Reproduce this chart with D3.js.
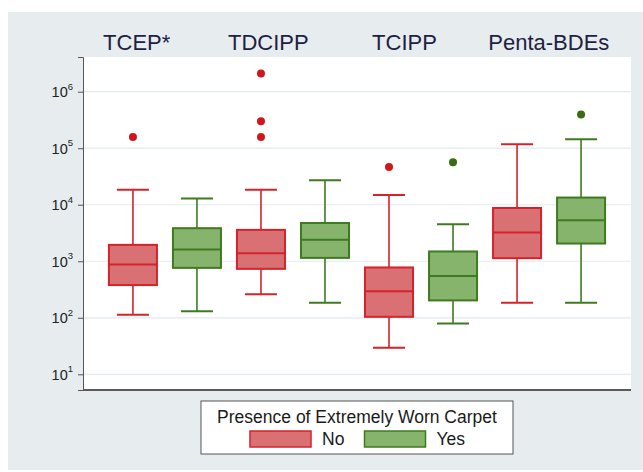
<!DOCTYPE html>
<html>
<head>
<meta charset="utf-8">
<script src="https://cdn.jsdelivr.net/npm/d3@7"></script>
<style>
  html, body { margin: 0; padding: 0; background: #ffffff; }
  svg { display: block; font-family: "Liberation Sans", Arial, sans-serif; }
</style>
</head>
<body>
<svg id="chart" width="643" height="472"></svg>
<script>
// Compounds and carpet-condition groups
const compounds = ["TCEP*", "TDCIPP", "TCIPP", "Penta-BDEs"];
const groups = ["No", "Yes"];

// Box statistics per compound — "No" (not extremely worn carpet)
const noLow    = [113, 262, 29.5, 184];
const noQ1     = [379, 734, 104, 1135];
const noMedian = [877, 1390, 296, 3230];
const noQ3     = [1950, 3590, 777, 8770];
const noHigh   = [18500, 18500, 14900, 117000];
const noOutliers = [[158000], [2100000, 300000, 158000], [46600], []];

// Box statistics per compound — "Yes" (extremely worn carpet present)
const yesLow    = [130, 184, 79.6, 184];
const yesQ1     = [764, 1148, 203, 2060];
const yesMedian = [1615, 2390, 546, 5320];
const yesQ3     = [3845, 4760, 1490, 13400];
const yesHigh   = [12850, 27100, 4520, 143500];
const yesOutliers = [[], [], [56400], [393000]];

// Y axis tick exponents (powers of ten)
const tickExponents = [1, 2, 3, 4, 5, 6];

const legendTitle = "Presence of Extremely Worn Carpet";

// Assemble records for drawing
const stats = [];
compounds.forEach((c, i) => {
  stats.push({compound: c, group: "No", low: noLow[i], q1: noQ1[i], median: noMedian[i], q3: noQ3[i], high: noHigh[i], outliers: noOutliers[i]});
  stats.push({compound: c, group: "Yes", low: yesLow[i], q1: yesQ1[i], median: yesMedian[i], q3: yesQ3[i], high: yesHigh[i], outliers: yesOutliers[i]});
});

const colors = {
  No:  {fill: "#d97074", stroke: "#d4232a", dot: "#d0161c"},
  Yes: {fill: "#87b46d", stroke: "#3e7b1f", dot: "#3b6c14"}
};

const svg = d3.select("#chart");
const plot = {left: 83, right: 631, top: 57, bottom: 390};

// Light grey graph region
svg.append("rect").attr("x", 8).attr("y", 12).attr("width", 635).attr("height", 458).attr("fill", "#e7ecef");
// White plot region
svg.append("rect").attr("x", plot.left).attr("y", plot.top)
  .attr("width", plot.right - plot.left).attr("height", plot.bottom - plot.top).attr("fill", "#ffffff");

// Log scale: 10^1 and 10^6 anchor the decades
const yBase = d3.scaleLog().domain([1e1, 1e6]).range([374.3, 91.7]);
const y = d3.scaleLog().domain([yBase.invert(plot.bottom), yBase.invert(plot.top)]).range([plot.bottom, plot.top]);

// Compound bands, with the two groups side by side inside each band
const x = d3.scaleBand().domain(compounds).range([plot.left, plot.right]).paddingInner(0).paddingOuter(0.14);
const xSub = d3.scalePoint().domain(groups).range([0, x.bandwidth()]).padding(0.5);
const boxW = x.bandwidth() * 0.375;
const capW = x.bandwidth() * 0.25;
const cx = d => x(d.compound) + xSub(d.group);

// Gridlines
svg.append("g").selectAll("line").data(tickExponents).join("line")
  .attr("x1", plot.left).attr("x2", plot.right)
  .attr("y1", e => y(Math.pow(10, e))).attr("y2", e => y(Math.pow(10, e)))
  .attr("stroke", "#e3eaef").attr("stroke-width", 1.2);

// Y axis with 10^n labels
const yAxis = d3.axisLeft(y).tickValues(tickExponents.map(e => Math.pow(10, e))).tickSize(5).tickFormat("");
const yg = svg.append("g").attr("transform", `translate(${plot.left},0)`).call(yAxis);
yg.select(".domain").attr("stroke", "#555555").attr("stroke-width", 1);
yg.selectAll(".tick line").attr("stroke", "#555555");
const labels = svg.append("g").selectAll("text").data(tickExponents).join("text")
  .attr("x", 73).attr("y", e => y(Math.pow(10, e)) + 5.5)
  .attr("text-anchor", "end").attr("fill", "#222222").attr("font-size", 14.5);
labels.append("tspan").text("10");
labels.append("tspan").attr("font-size", 9.5).attr("dy", -7.5).text(e => e);

// Bottom axis line
svg.append("line").attr("x1", plot.left).attr("x2", plot.right)
  .attr("y1", plot.bottom).attr("y2", plot.bottom).attr("stroke", "#5a5a5a").attr("stroke-width", 2);

// Box plots
const boxes = svg.append("g").selectAll("g").data(stats).join("g");
boxes.append("line").attr("x1", cx).attr("x2", cx)
  .attr("y1", d => y(d.high)).attr("y2", d => y(d.q3))
  .attr("stroke", d => colors[d.group].stroke).attr("stroke-width", 1.6);
boxes.append("line").attr("x1", cx).attr("x2", cx)
  .attr("y1", d => y(d.q1)).attr("y2", d => y(d.low))
  .attr("stroke", d => colors[d.group].stroke).attr("stroke-width", 1.6);
boxes.append("line").attr("x1", d => cx(d) - capW / 2).attr("x2", d => cx(d) + capW / 2)
  .attr("y1", d => y(d.high)).attr("y2", d => y(d.high))
  .attr("stroke", d => colors[d.group].stroke).attr("stroke-width", 2);
boxes.append("line").attr("x1", d => cx(d) - capW / 2).attr("x2", d => cx(d) + capW / 2)
  .attr("y1", d => y(d.low)).attr("y2", d => y(d.low))
  .attr("stroke", d => colors[d.group].stroke).attr("stroke-width", 2);
boxes.append("rect")
  .attr("x", d => cx(d) - boxW / 2).attr("width", boxW)
  .attr("y", d => y(d.q3)).attr("height", d => y(d.q1) - y(d.q3))
  .attr("fill", d => colors[d.group].fill).attr("stroke", d => colors[d.group].stroke).attr("stroke-width", 2);
boxes.append("line").attr("x1", d => cx(d) - boxW / 2).attr("x2", d => cx(d) + boxW / 2)
  .attr("y1", d => y(d.median)).attr("y2", d => y(d.median))
  .attr("stroke", d => colors[d.group].stroke).attr("stroke-width", 2);
boxes.selectAll("circle").data(d => d.outliers.map(v => ({v, d}))).join("circle")
  .attr("cx", o => cx(o.d)).attr("cy", o => y(o.v)).attr("r", 4)
  .attr("fill", o => colors[o.d.group].dot);

// Compound titles across the top
const titleX = [136.7, 268.3, 404.5, 548.8];
svg.append("g").selectAll("text").data(compounds).join("text")
  .attr("x", (c, i) => titleX[i]).attr("y", 50)
  .attr("text-anchor", "middle").attr("font-size", 22).attr("fill", "#1e2142")
  .text(c => c);

// Legend
const lg = svg.append("g");
const legendCx = (plot.left + plot.right) / 2;
lg.append("rect").attr("x", legendCx - 156).attr("y", 401).attr("width", 312).attr("height", 53)
  .attr("fill", "#ffffff").attr("stroke", "#555555").attr("stroke-width", 1);
lg.append("text").attr("x", legendCx).attr("y", 423).attr("text-anchor", "middle")
  .attr("font-size", 17.5).attr("fill", "#1a1a1a").text(legendTitle);
const legendItemX = {No: 250, Yes: 364.5};
groups.forEach(g => {
  lg.append("rect").attr("x", legendItemX[g]).attr("y", 431).attr("width", 61).attr("height", 16)
    .attr("fill", colors[g].fill).attr("stroke", colors[g].stroke).attr("stroke-width", 1.5);
  lg.append("text").attr("x", legendItemX[g] + 72).attr("y", 445)
    .attr("font-size", 17.5).attr("fill", "#1a1a1a").text(g);
});
</script>
</body>
</html>
